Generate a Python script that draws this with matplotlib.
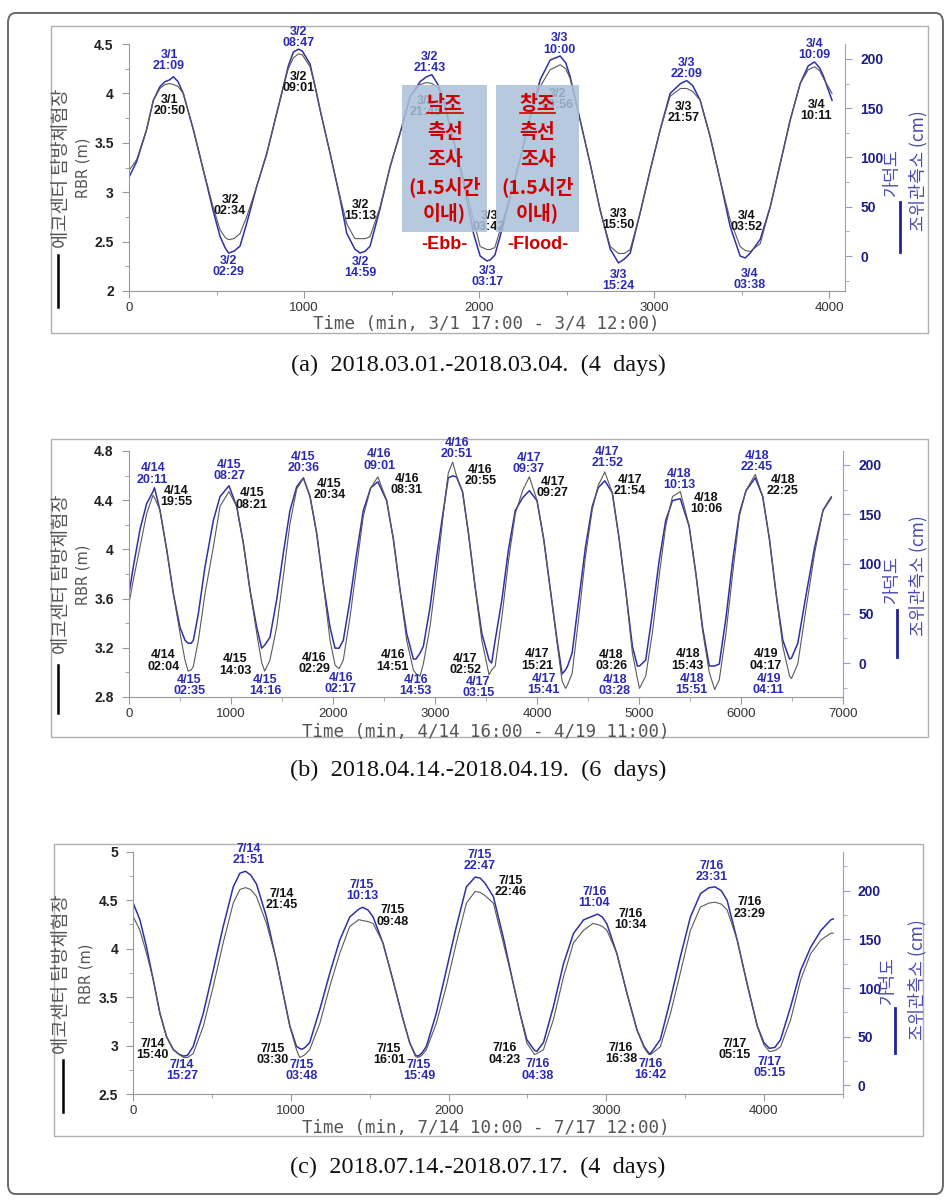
import matplotlib
matplotlib.use('Agg')
import matplotlib.pyplot as plt
from matplotlib.patches import Rectangle, FancyBboxPatch
from matplotlib.lines import Line2D
from matplotlib.ticker import MultipleLocator, FormatStrFormatter

plt.rcParams['font.family'] = ['Liberation Sans', 'DejaVu Sans']
KOR = ['Noto Sans CJK KR', 'DejaVu Sans']

W, H = 952, 1201

# ---------------- (a) 3/1 17:00 - 3/4 12:00 ----------------
t_a = [0, 44, 100, 139, 177, 206, 234, 253, 280, 310, 368, 425, 482, 520, 550, 569, 600, 634, 672, 730, 787,
       844, 882, 910, 939, 968, 990, 1034, 1062, 1092, 1149, 1206, 1244, 1290, 1320, 1350, 1377, 1434, 1492, 1549, 1606, 1663, 1700,
       1730, 1765, 1796, 1853, 1911, 1968, 2006, 2044, 2063, 2090, 2120, 2177, 2234, 2291, 2349, 2406, 2463, 2495, 2520, 2577, 2634, 2691,
       2749, 2796, 2830, 2863, 2920, 2977, 3034, 3091, 3150, 3186, 3220, 3263, 3320, 3377, 3434, 3491, 3520, 3549, 3606, 3663,
       3720, 3777, 3834, 3880, 3916, 3945, 3968, 4016]
rbr_a = [3.22, 3.33, 3.63, 3.93, 4.05, 4.09, 4.10, 4.09, 4.07, 4.00, 3.63, 3.22, 2.84, 2.62, 2.54, 2.52, 2.53, 2.58, 2.75, 3.06, 3.39,
         3.80, 4.07, 4.25, 4.36, 4.40, 4.39, 4.27, 4.08, 3.83, 3.39, 2.95, 2.68, 2.53, 2.53, 2.53, 2.55, 2.85, 3.26, 3.60, 3.97, 4.09, 4.11,
         4.10, 4.06, 3.93, 3.53, 3.12, 2.72, 2.45, 2.42, 2.42, 2.44, 2.62, 2.95, 3.33, 3.76, 4.07, 4.24, 4.29, 4.25, 4.15, 3.73, 3.29, 2.82,
         2.45, 2.38, 2.38, 2.42, 2.79, 3.22, 3.63, 3.97, 4.05, 4.05, 4.02, 3.93, 3.56, 3.12, 2.72, 2.45, 2.41, 2.40, 2.48, 2.85,
         3.29, 3.73, 4.10, 4.24, 4.27, 4.23, 4.15, 4.00]
tide_a = [80, 96, 128, 158, 172, 177, 179, 182, 177, 165, 128, 87, 45, 20, 8, 3, 5, 10, 33, 71, 104,
          145, 172, 193, 207, 210, 208, 195, 173, 148, 104, 58, 23, 7, 3, 5, 10, 48, 91, 125, 162, 177, 182,
          184, 174, 158, 118, 75, 23, 0, -5, -4, 1, 20, 60, 98, 141, 179, 199, 203, 196, 182, 138, 94, 47,
          7, -7, -3, 3, 44, 87, 128, 165, 175, 178, 173, 158, 121, 77, 30, 0, -2, 3, 17, 50,
          94, 138, 175, 193, 197, 191, 182, 158]
blue_notes_a = [("3/1\n21:09", 229, 4.33), ("3/2\n08:47", 968, 4.57), ("3/2\n02:29", 568, 2.25),
                ("3/2\n14:59", 1324, 2.24), ("3/2\n21:43", 1716, 4.31), ("3/3\n03:17", 2050, 2.145),
                ("3/3\n10:00", 2457, 4.50), ("3/3\n15:24", 2796, 2.11), ("3/3\n22:09", 3183, 4.254),
                ("3/4\n03:38", 3543, 2.12), ("3/4\n10:09", 3916, 4.44)]
black_notes_a = [("3/1\n20:50", 230, 3.876), ("3/2\n09:01", 968, 4.11), ("3/2\n02:34", 577, 2.864),
                 ("3/2\n15:13", 1324, 2.813), ("3/2\n21:45", 1695, 3.87), ("3/3\n03:42", 2057, 2.70),
                 ("3/2\n09:56", 2447, 3.94), ("3/3\n15:50", 2796, 2.72), ("3/3\n21:57", 3168, 3.805),
                 ("3/4\n03:52", 3529, 2.70), ("3/4\n10:11", 3926, 3.83)]

# ---------------- (b) 4/14 16:00 - 4/19 11:00 ----------------
t_b = [0, 42, 108, 173, 235, 250, 304, 369, 435, 500, 549, 580, 610, 631, 680, 745, 827, 892, 980, 1056,
       1121, 1186, 1252, 1301, 1330, 1382, 1448, 1513, 1578, 1644, 1710, 1775, 1840, 1905, 1971, 2020, 2060, 2101, 2167, 2232,
       2297, 2370, 2440, 2526, 2592, 2657, 2722, 2788, 2813, 2853, 2886, 2951, 3016, 3082, 3130, 3173, 3210, 3270, 3328, 3393,
       3459, 3530, 3555, 3590, 3656, 3721, 3787, 3860, 3925, 4000, 4066, 4131, 4197, 4246, 4280, 4300, 4344, 4410, 4475, 4541,
       4600, 4665, 4738, 4803, 4869, 4935, 4984, 5005, 5066, 5131, 5197, 5262, 5328, 5405, 5492, 5558, 5623, 5689, 5742, 5787,
       5853, 5918, 5984, 6049, 6140, 6213, 6279, 6344, 6410, 6476, 6495, 6557, 6640, 6722, 6804, 6885]
rbr_b = [3.56, 3.75, 4.02, 4.29, 4.44, 4.42, 4.32, 4.00, 3.64, 3.32, 3.10, 3.01, 3.02, 3.05, 3.26, 3.64, 4.02, 4.35, 4.47, 4.35,
         4.05, 3.67, 3.32, 3.08, 3.01, 3.10, 3.37, 3.78, 4.21, 4.49, 4.58, 4.43, 4.13, 3.72, 3.26, 3.06, 3.03, 3.10, 3.45, 3.86,
         4.27, 4.50, 4.59, 4.40, 4.08, 3.67, 3.26, 3.02, 2.99, 2.97, 3.07, 3.37, 3.80, 4.29, 4.62, 4.71, 4.60, 4.47, 4.13, 3.70,
         3.26, 2.98, 3.02, 3.05, 3.45, 3.91, 4.29, 4.48, 4.59, 4.40, 4.08, 3.67, 3.24, 2.93, 2.87, 2.90, 2.99, 3.45, 3.94, 4.32,
         4.52, 4.63, 4.46, 4.10, 3.67, 3.16, 2.95, 2.87, 2.97, 3.32, 3.78, 4.19, 4.43, 4.47, 4.19, 3.80, 3.34, 3.00, 2.86, 2.94,
         3.32, 3.80, 4.27, 4.48, 4.61, 4.43, 4.08, 3.64, 3.21, 2.97, 2.95, 3.07, 3.53, 3.97, 4.32, 4.43]
tide_b = [70, 97, 135, 161, 173, 177, 154, 115, 70, 36, 23, 20, 20, 23, 50, 97, 144, 168, 179, 158,
          121, 74, 36, 15, 18, 26, 64, 111, 154, 178, 187, 168, 131, 80, 36, 15, 15, 23, 64, 111,
          154, 177, 183, 164, 125, 74, 30, 4, 4, 10, 17, 56, 107, 154, 187, 189, 188, 173, 131, 77,
          30, 3, 0, 23, 64, 115, 154, 167, 174, 164, 125, 74, 23, -11, -7, -3, 10, 64, 117, 158,
          177, 184, 172, 127, 74, 17, -3, -3, 3, 50, 103, 144, 164, 166, 138, 90, 36, -3, -3, -1,
          46, 103, 151, 174, 187, 168, 125, 70, 23, 4, 5, 20, 70, 117, 154, 167]
blue_notes_b = [("4/14\n20:11", 232, 4.613), ("4/15\n08:27", 980, 4.64), ("4/15\n20:36", 1709, 4.705),
                ("4/16\n09:01", 2454, 4.727), ("4/16\n20:51", 3212, 4.817), ("4/15\n02:35", 592, 2.893),
                ("4/15\n14:16", 1333, 2.893), ("4/16\n02:17", 2075, 2.91), ("4/16\n14:53", 2810, 2.89),
                ("4/17\n03:15", 3425, 2.879), ("4/17\n09:37", 3918, 4.70), ("4/17\n21:52", 4689, 4.746),
                ("4/18\n10:13", 5394, 4.57), ("4/18\n22:45", 6154, 4.714), ("4/17\n15:41", 4066, 2.898),
                ("4/18\n03:28", 4761, 2.893), ("4/18\n15:51", 5518, 2.898), ("4/19\n04:11", 6272, 2.903)]
black_notes_b = [("4/14\n19:55", 461, 4.429), ("4/15\n08:21", 1203, 4.41), ("4/15\n20:34", 1964, 4.489),
                 ("4/16\n08:31", 2722, 4.524), ("4/16\n20:55", 3445, 4.60), ("4/17\n09:27", 4154, 4.505),
                 ("4/17\n21:54", 4908, 4.516), ("4/18\n10:06", 5656, 4.375), ("4/18\n22:25", 6410, 4.516),
                 ("4/14\n02:04", 337, 3.093), ("4/15\n14:03", 1039, 3.06), ("4/16\n02:29", 1817, 3.074),
                 ("4/16\n14:51", 2585, 3.093), ("4/17\n02:52", 3295, 3.066), ("4/17\n15:21", 4000, 3.101),
                 ("4/18\n03:26", 4728, 3.096), ("4/18\n15:43", 5476, 3.101), ("4/19\n04:17", 6246, 3.101)]

# ---------------- (c) 7/14 10:00 - 7/17 12:00 ----------------
t_c = [0, 42, 84, 127, 169, 211, 253, 290, 320, 345, 380, 444, 507, 570, 634, 676, 712, 745, 781, 845, 908, 950,
       993, 1035, 1055, 1070, 1090, 1119, 1183, 1246, 1309, 1373, 1430, 1455, 1490, 1521, 1584, 1647, 1711, 1753, 1790, 1806, 1830, 1859, 1922,
       1985, 2049, 2113, 2168, 2200, 2230, 2284, 2347, 2411, 2453, 2496, 2545, 2560, 2602, 2665, 2729, 2792, 2856, 2915, 2945, 2975, 3004,
       3068, 3131, 3195, 3240, 3270, 3282, 3343, 3407, 3470, 3534, 3598, 3650, 3690, 3730, 3767, 3831, 3894, 3958, 4000, 4035, 4070, 4106, 4170, 4233, 4297,
       4361, 4424, 4440]
rbr_c = [4.33, 4.19, 3.95, 3.68, 3.33, 3.09, 2.96, 2.91, 2.88, 2.88, 2.92, 3.20, 3.61, 4.06, 4.47, 4.61, 4.63, 4.61, 4.54, 4.26, 3.88, 3.54,
         3.20, 2.96, 2.88, 2.89, 2.91, 2.96, 3.23, 3.61, 3.95, 4.23, 4.30, 4.29, 4.28, 4.26, 4.06, 3.68, 3.27, 3.03, 2.89, 2.88, 2.90, 2.96, 3.23,
         3.61, 4.06, 4.47, 4.59, 4.58, 4.55, 4.47, 4.06, 3.64, 3.33, 3.03, 2.91, 2.92, 2.96, 3.27, 3.71, 4.06, 4.19, 4.26, 4.25, 4.23, 4.19,
         3.95, 3.54, 3.16, 2.98, 2.91, 2.91, 2.99, 3.33, 3.75, 4.19, 4.43, 4.47, 4.48, 4.46, 4.40, 4.09, 3.64, 3.20, 3.01, 2.94, 2.95, 2.99, 3.27, 3.68, 3.95,
         4.09, 4.16, 4.16]
tide_c = [187, 170, 142, 108, 74, 50, 37, 32, 30, 31, 40, 74, 118, 163, 204, 218, 220, 216, 207, 173, 128, 95,
          61, 40, 38, 37, 39, 44, 78, 115, 149, 173, 181, 183, 180, 173, 146, 108, 68, 44, 31, 30, 33, 40, 74,
          118, 163, 204, 214, 213, 208, 194, 152, 104, 74, 47, 36, 35, 44, 81, 125, 156, 170, 174, 176, 173, 166,
          135, 95, 57, 40, 33, 33, 47, 88, 132, 173, 197, 203, 204, 200, 190, 149, 104, 61, 44, 38, 39, 47, 81, 118, 142,
          159, 170, 171]
blue_notes_c = [("7/14\n21:51", 733, 4.97), ("7/15\n10:13", 1451, 4.598), ("7/15\n22:47", 2196, 4.907),
                ("7/16\n11:04", 2924, 4.53), ("7/16\n23:31", 3672, 4.80), ("7/14\n15:27", 310, 2.744),
                ("7/15\n03:48", 1067, 2.744), ("7/15\n15:49", 1812, 2.744), ("7/16\n04:38", 2563, 2.75),
                ("7/16\n16:42", 3280, 2.76), ("7/17\n05:15", 4038, 2.778)]
black_notes_c = [("7/14\n21:45", 940, 4.51), ("7/15\n09:48", 1647, 4.337), ("7/15\n22:46", 2396, 4.64),
                 ("7/16\n10:34", 3153, 4.30), ("7/16\n23:29", 3909, 4.42), ("7/14\n15:40", 122, 2.96),
                 ("7/15\n03:30", 883, 2.91), ("7/15\n16:01", 1622, 2.91), ("7/16\n04:23", 2358, 2.915),
                 ("7/16\n16:38", 3093, 2.92), ("7/17\n05:15", 3816, 2.96)]

xlabels = ["Time (min, 3/1 17:00 - 3/4 12:00)",
           "Time (min, 4/14 16:00 - 4/19 11:00)",
           "Time (min, 7/14 10:00 - 7/17 12:00)"]
captions = ["(a)  2018.03.01.-2018.03.04.  (4  days)",
            "(b)  2018.04.14.-2018.04.19.  (6  days)",
            "(c)  2018.07.14.-2018.07.17.  (4  days)"]

# survey boxes in panel (a): start, end (min)
survey_x = [(1560, 2046), (2097, 2571)]
survey_lines = [["낙조", "측선", "조사", "(1.5시간", "이내)"], ["창조", "측선", "조사", "(1.5시간", "이내)"]]
survey_tags = ["-Ebb-", "-Flood-"]

BLUE = '#3030a6'
NAVY = '#22229a'
RED = '#d00000'


def fx(px):
    return px / W


def fy(py):
    return 1 - py / H


fig = plt.figure(figsize=(W / 100, H / 100), dpi=100)

# outer frame and picture frames
fig.add_artist(FancyBboxPatch((fx(8), fy(1194)), fx(943) - fx(8), fy(13) - fy(1194),
                              boxstyle='round,pad=0,rounding_size=0.008', transform=fig.transFigure,
                              fill=False, ec='#6a6a6a', lw=1.4))
for (x0, y0, x1, y1) in [(51, 26, 928, 333), (51, 439, 928, 737), (54, 844, 923, 1136)]:
    fig.add_artist(Rectangle((fx(x0), fy(y1)), fx(x1) - fx(x0), fy(y0) - fy(y1), transform=fig.transFigure,
                             fill=False, ec='#b0b0b0', lw=1.0))


def draw_panel(box, xlim, ylim_m, ylim_cm, ystep, t, rbr, tide, blue_notes, black_notes, lay, xlabel, caption):
    l, r, top, bot = box
    ax = fig.add_axes([fx(l), fy(bot), fx(r) - fx(l), fy(top) - fy(bot)])
    ax2 = ax.twinx()
    ax.set_zorder(ax2.get_zorder() + 1)
    ax.patch.set_visible(False)

    ax2.plot(t, tide, color=BLUE, lw=1.1)
    ax.plot(t, rbr, color='#5a5a5a', lw=0.8, zorder=2)

    ax.set_xlim(*xlim)
    ax.set_ylim(*ylim_m)
    ax2.set_ylim(*ylim_cm)

    for s in ['top', 'right']:
        ax.spines[s].set_visible(False)
    for s in ['top', 'left', 'bottom']:
        ax2.spines[s].set_visible(False)
    ax.spines['left'].set_color('#999999')
    ax.spines['bottom'].set_color('#999999')
    ax2.spines['right'].set_color('#9c9cc8')

    ax.xaxis.set_major_locator(MultipleLocator(1000))
    ax.xaxis.set_minor_locator(MultipleLocator(500))
    ax.yaxis.set_major_locator(MultipleLocator(ystep))
    ax.yaxis.set_minor_locator(MultipleLocator(ystep / 2))
    ax.yaxis.set_major_formatter(FormatStrFormatter('%g'))
    ax2.yaxis.set_major_locator(MultipleLocator(50))
    ax2.yaxis.set_minor_locator(MultipleLocator(25))
    ax2.yaxis.set_major_formatter(FormatStrFormatter('%d'))

    ax.tick_params(axis='x', which='both', colors='#999999', labelcolor='#333333', labelsize=9.5, pad=3)
    ax.tick_params(axis='x', which='major', length=5)
    ax.tick_params(axis='x', which='minor', length=3)
    ax.tick_params(axis='y', which='both', colors='#999999', labelcolor='#222222', labelsize=10, pad=6)
    ax.tick_params(axis='y', which='major', length=5)
    ax.tick_params(axis='y', which='minor', length=3)
    ax2.tick_params(axis='y', which='both', colors='#9c9cc8', labelcolor='#1c1c8c', labelsize=10, pad=6)
    ax2.tick_params(axis='y', which='major', length=5)
    ax2.tick_params(axis='y', which='minor', length=3)
    for lab in ax.get_yticklabels() + ax2.get_yticklabels():
        lab.set_fontweight('bold')

    for txt, x, y in blue_notes:
        ax.text(x, y, txt, ha='center', va='center', fontsize=9, fontweight='bold', color='#2a2ab4',
                linespacing=0.9, zorder=3)
    for txt, x, y in black_notes:
        ax.text(x, y, txt, ha='center', va='center', fontsize=9, fontweight='bold', color='#111111',
                linespacing=0.9, zorder=3)

    # axis titles, placed like the original picture
    fig.text(fx(lay['kor_x']), fy(lay['kor_y']), "에코센터 탐방체험장", rotation=90, ha='center', va='center',
             fontsize=13.5, color='#555555', family=KOR)
    fig.text(fx(lay['rbr_x']), fy(lay['rbr_y']), "RBR (m)", rotation=90, ha='center', va='center',
             fontsize=10.5, color='#555555', family='DejaVu Sans')
    fig.add_artist(Line2D([fx(lay['bl_x'])] * 2, [fy(lay['bl_y'][0]), fy(lay['bl_y'][1])],
                          transform=fig.transFigure, color='black', lw=1.8))
    fig.text(fx(lay['gd_x']), fy(lay['gd_y']), "가덕도", rotation=90, ha='center', va='center',
             fontsize=12.5, color='#4b4bb0', family=KOR)
    fig.text(fx(lay['jw_x']), fy(lay['jw_y']), "조위관측소 (cm)", rotation=90, ha='center', va='center',
             fontsize=12.5, color='#4b4bb0', family=KOR)
    fig.add_artist(Line2D([fx(lay['nl_x'])] * 2, [fy(lay['nl_y'][0]), fy(lay['nl_y'][1])],
                          transform=fig.transFigure, color=NAVY, lw=2.0))
    fig.text(fx(486), fy(lay['xl_y']), xlabel, ha='center', va='center', fontsize=12.6,
             color='#555555', family='DejaVu Sans Mono')
    fig.text(fx(478), fy(lay['cap_y']), caption, ha='center', va='center', fontsize=17.5,
             color='#111111', family='Liberation Serif')
    return ax


lay_a = dict(kor_x=62, kor_y=168, rbr_x=83, rbr_y=168, bl_x=58, bl_y=(255, 307),
             gd_x=892, gd_y=173, jw_x=918, jw_y=171, nl_x=900, nl_y=(202, 252), xl_y=324, cap_y=365)
lay_b = dict(kor_x=62, kor_y=574, rbr_x=83, rbr_y=575, bl_x=58, bl_y=(665, 713),
             gd_x=892, gd_y=580, jw_x=918, jw_y=576, nl_x=897, nl_y=(610, 657), xl_y=732, cap_y=770)
lay_c = dict(kor_x=62, kor_y=974, rbr_x=86, rbr_y=974, bl_x=63, bl_y=(1060, 1112),
             gd_x=888, gd_y=981, jw_x=917, jw_y=980, nl_x=895, nl_y=(1008, 1053), xl_y=1128, cap_y=1167)

ax_a = draw_panel((129, 845, 44, 291), (0, 4090), (2, 4.5), (-35.5, 215.2), 0.5,
                  t_a, rbr_a, tide_a, blue_notes_a, black_notes_a, lay_a, xlabels[0], captions[0])
draw_panel((129, 843, 451, 697), (0, 7000), (2.8, 4.8), (-34.3, 214.1), 0.4,
           t_b, rbr_b, tide_b, blue_notes_b, black_notes_b, lay_b, xlabels[1], captions[1])
draw_panel((133.3, 842.7, 851.7, 1094.3), (0, 4500), (2.5, 5.0), (-9.2, 240.1), 0.5,
           t_c, rbr_c, tide_c, blue_notes_c, black_notes_c, lay_c, xlabels[2], captions[2])

# survey boxes with red notes in panel (a)
line_y = [3.883, 3.609, 3.326, 3.053, 2.789]
first_lines = []
for (x0, x1), lines, tag in zip(survey_x, survey_lines, survey_tags):
    ax_a.add_patch(Rectangle((x0, 2.6), x1 - x0, 1.485, facecolor='#a9c0da', alpha=0.85, lw=0, zorder=4))
    xc = (x0 + x1) / 2
    for k, (s, y) in enumerate(zip(lines, line_y)):
        tx = ax_a.text(xc, y, s, ha='center', va='center', fontsize=14, fontweight='bold', color=RED,
                       family=KOR, zorder=5)
        if k == 0:
            first_lines.append(tx)
    ax_a.text(xc, 2.466, tag, ha='center', va='center', fontsize=13, fontweight='bold', color=RED, zorder=5)

fig.canvas.draw()
inv = fig.transFigure.inverted()
for tx in first_lines:
    bb = tx.get_window_extent()
    (x0, y0), (x1, _) = inv.transform([(bb.x0, bb.y0), (bb.x1, bb.y0)])
    fig.add_artist(Line2D([x0, x1], [y0 + 0.001, y0 + 0.001], transform=fig.transFigure, color=RED, lw=1.2))

fig.savefig('out.png', dpi=100)
